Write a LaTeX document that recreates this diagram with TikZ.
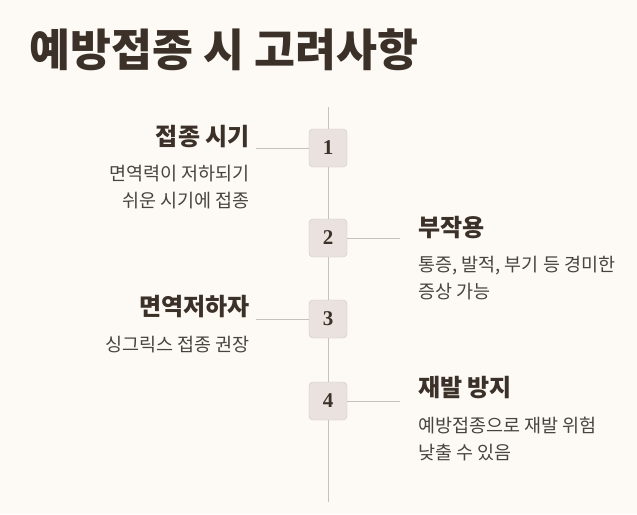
\documentclass[tikz,border=0pt]{standalone}
\usepackage{fontspec}
\setmainfont{Noto Sans CJK KR}
\newfontfamily\numf{Liberation Serif}
\definecolor{bg}{HTML}{FDFAF6}
\definecolor{ink}{HTML}{3B3128}
\definecolor{txt}{HTML}{4A4440}
\definecolor{ln}{HTML}{C8C0BA}
\definecolor{boxf}{HTML}{EAE2DF}
\definecolor{boxd}{HTML}{CDC3BF}
\begin{document}
\begin{tikzpicture}[x=1pt,y=-1pt,
  numbox/.style={draw=boxd,fill=boxf,rounded corners=4pt,minimum width=38pt,minimum height=38pt,inner sep=0pt,font=\numf\bfseries\fontsize{21}{21}\selectfont,text=ink},
  head/.style={font=\bfseries\fontsize{24}{26}\selectfont,text=ink,inner sep=0pt},
  desc/.style={font=\fontsize{18.5}{27}\selectfont,text=txt,inner sep=0pt,align=left},
  descr/.style={desc,align=right},
  conn/.style={draw=ln,line width=1pt}]
\fill[bg] (0,0) rectangle (637,514);
\node[anchor=west,font=\bfseries\fontsize{44.5}{46}\selectfont,text=ink,inner sep=0pt] (title) at (29,50) {예방접종 시 고려사항};
\coordinate (top) at (328,107); \coordinate (bot) at (328,502);
\draw[conn] (top) -- (bot);
\coordinate (c1) at (256,148); \coordinate (c2) at (400,238);
\coordinate (c3) at (256,319); \coordinate (c4) at (400,401);
\node[numbox] (b1) at (328,148) {1};
\node[numbox] (b2) at (328,238) {2};
\node[numbox] (b3) at (328,319) {3};
\node[numbox] (b4) at (328,401) {4};
\draw[conn] (b1) -- (c1); \draw[conn] (b2) -- (c2);
\draw[conn] (b3) -- (c3); \draw[conn] (b4) -- (c4);
\node[head,anchor=east] (h1) at (250,137) {접종 시기};
\node[descr,anchor=north east] (d1) at (250,165) {면역력이 저하되기\\쉬운 시기에 접종};
\node[head,anchor=west] (h2) at (418,228) {부작용};
\node[desc,anchor=north west] (d2) at (418,256) {통증, 발적, 부기 등 경미한\\증상 가능};
\node[head,anchor=east] (h3) at (250,307) {면역저하자};
\node[descr,anchor=north east] (d3) at (250,336) {싱그릭스 접종 권장};
\node[head,anchor=west] (h4) at (418,388) {재발 방지};
\node[desc,anchor=north west] (d4) at (418,417) {예방접종으로 재발 위험\\낮출 수 있음};
\end{tikzpicture}
\end{document}
